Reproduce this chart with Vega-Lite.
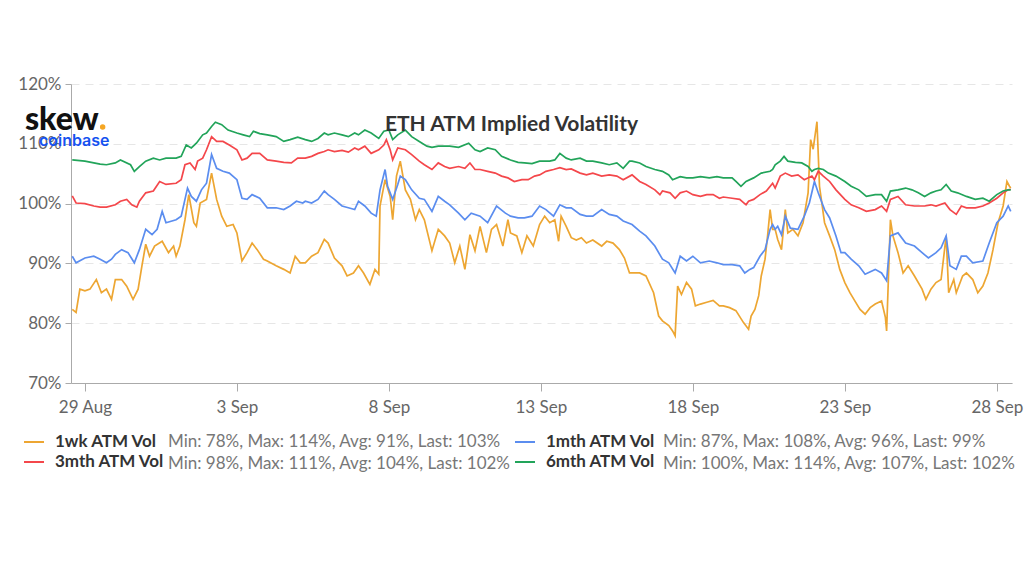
{
  "$schema": "https://vega.github.io/schema/vega-lite/v6.json",
  "width": 941,
  "height": 299,
  "autosize": {"type": "none"},
  "padding": {"left": 71, "top": 84, "right": 12, "bottom": 189},
  "background": "white",
  "config": {
    "font": "Lato",
    "view": {"stroke": null},
    "axis": {"labelFont": "Lato", "labelFontSize": 17, "labelColor": "#666666", "domainColor": "#aaaaaa", "tickColor": "#aaaaaa", "title": null}
  },
  "title": {
    "text": "ETH ATM Implied Volatility",
    "fontSize": 21,
    "fontWeight": "bold",
    "color": "#333333",
    "anchor": "middle",
    "baseline": "alphabetic",
    "offset": 0,
    "dx": -30,
    "dy": 77
  },
  "datasets": {
    "stats": [
      {"k": "Min: 78%, Max: 114%, Avg: 91%, Last: 103%"},
      {"k": "Min: 87%, Max: 108%, Avg: 96%, Last: 99%"},
      {"k": "Min: 98%, Max: 111%, Avg: 104%, Last: 102%"},
      {"k": "Min: 100%, Max: 114%, Avg: 107%, Last: 102%"}
    ],
    "vol": [
      {"t":"2020-08-28T14:00Z","s":"1wk","v":82.3},{"t":"2020-08-28T17:00Z","s":"1wk","v":81.8},{"t":"2020-08-28T20:00Z","s":"1wk","v":85.7},{"t":"2020-08-29T00:00Z","s":"1wk","v":85.4},{"t":"2020-08-29T04:00Z","s":"1wk","v":85.7},{"t":"2020-08-29T09:00Z","s":"1wk","v":87.3},{"t":"2020-08-29T13:00Z","s":"1wk","v":85.1},{"t":"2020-08-29T17:00Z","s":"1wk","v":85.7},{"t":"2020-08-29T21:00Z","s":"1wk","v":84.0},{"t":"2020-08-30T00:00Z","s":"1wk","v":87.3},{"t":"2020-08-30T05:00Z","s":"1wk","v":87.3},{"t":"2020-08-30T09:00Z","s":"1wk","v":86.2},{"t":"2020-08-30T14:00Z","s":"1wk","v":84.0},{"t":"2020-08-30T18:00Z","s":"1wk","v":85.7},{"t":"2020-08-30T21:00Z","s":"1wk","v":89.6},{"t":"2020-08-31T00:00Z","s":"1wk","v":93.2},{"t":"2020-08-31T03:00Z","s":"1wk","v":91.2},{"t":"2020-08-31T07:00Z","s":"1wk","v":92.9},{"t":"2020-08-31T13:00Z","s":"1wk","v":93.7},{"t":"2020-08-31T18:00Z","s":"1wk","v":91.8},{"t":"2020-08-31T22:00Z","s":"1wk","v":92.9},{"t":"2020-09-01T00:00Z","s":"1wk","v":91.2},{"t":"2020-09-01T03:00Z","s":"1wk","v":92.9},{"t":"2020-09-01T07:00Z","s":"1wk","v":97.3},{"t":"2020-09-01T10:00Z","s":"1wk","v":101.5},{"t":"2020-09-01T14:00Z","s":"1wk","v":96.8},{"t":"2020-09-01T16:00Z","s":"1wk","v":96.2},{"t":"2020-09-01T19:00Z","s":"1wk","v":100.1},{"t":"2020-09-02T00:00Z","s":"1wk","v":100.7},{"t":"2020-09-02T04:00Z","s":"1wk","v":105.1},{"t":"2020-09-02T08:00Z","s":"1wk","v":100.7},{"t":"2020-09-02T12:00Z","s":"1wk","v":97.9},{"t":"2020-09-02T16:00Z","s":"1wk","v":96.2},{"t":"2020-09-02T21:00Z","s":"1wk","v":96.5},{"t":"2020-09-03T00:00Z","s":"1wk","v":95.1},{"t":"2020-09-03T04:00Z","s":"1wk","v":90.4},{"t":"2020-09-03T08:00Z","s":"1wk","v":91.8},{"t":"2020-09-03T12:00Z","s":"1wk","v":93.4},{"t":"2020-09-03T16:00Z","s":"1wk","v":92.3},{"t":"2020-09-03T21:00Z","s":"1wk","v":90.7},{"t":"2020-09-04T00:00Z","s":"1wk","v":90.4},{"t":"2020-09-04T07:00Z","s":"1wk","v":89.6},{"t":"2020-09-04T13:00Z","s":"1wk","v":89.0},{"t":"2020-09-04T18:00Z","s":"1wk","v":88.4},{"t":"2020-09-04T22:00Z","s":"1wk","v":91.2},{"t":"2020-09-05T02:00Z","s":"1wk","v":90.1},{"t":"2020-09-05T06:00Z","s":"1wk","v":90.1},{"t":"2020-09-05T11:00Z","s":"1wk","v":91.2},{"t":"2020-09-05T16:00Z","s":"1wk","v":91.8},{"t":"2020-09-05T21:00Z","s":"1wk","v":94.0},{"t":"2020-09-06T00:00Z","s":"1wk","v":93.4},{"t":"2020-09-06T05:00Z","s":"1wk","v":90.9},{"t":"2020-09-06T11:00Z","s":"1wk","v":89.6},{"t":"2020-09-06T15:00Z","s":"1wk","v":87.9},{"t":"2020-09-06T20:00Z","s":"1wk","v":88.4},{"t":"2020-09-07T00:00Z","s":"1wk","v":89.6},{"t":"2020-09-07T04:00Z","s":"1wk","v":88.4},{"t":"2020-09-07T09:00Z","s":"1wk","v":86.5},{"t":"2020-09-07T13:00Z","s":"1wk","v":89.0},{"t":"2020-09-07T16:00Z","s":"1wk","v":88.2},{"t":"2020-09-07T17:00Z","s":"1wk","v":99.6},{"t":"2020-09-07T21:00Z","s":"1wk","v":104.0},{"t":"2020-09-08T01:00Z","s":"1wk","v":101.2},{"t":"2020-09-08T03:00Z","s":"1wk","v":97.3},{"t":"2020-09-08T06:00Z","s":"1wk","v":104.6},{"t":"2020-09-08T09:00Z","s":"1wk","v":107.1},{"t":"2020-09-08T13:00Z","s":"1wk","v":102.3},{"t":"2020-09-08T17:00Z","s":"1wk","v":100.7},{"t":"2020-09-08T21:00Z","s":"1wk","v":97.3},{"t":"2020-09-09T00:00Z","s":"1wk","v":99.0},{"t":"2020-09-09T04:00Z","s":"1wk","v":97.3},{"t":"2020-09-09T10:00Z","s":"1wk","v":92.1},{"t":"2020-09-09T15:00Z","s":"1wk","v":95.7},{"t":"2020-09-09T20:00Z","s":"1wk","v":94.6},{"t":"2020-09-10T00:00Z","s":"1wk","v":93.4},{"t":"2020-09-10T04:00Z","s":"1wk","v":90.1},{"t":"2020-09-10T08:00Z","s":"1wk","v":92.9},{"t":"2020-09-10T12:00Z","s":"1wk","v":89.0},{"t":"2020-09-10T16:00Z","s":"1wk","v":94.8},{"t":"2020-09-10T20:00Z","s":"1wk","v":92.1},{"t":"2020-09-11T00:00Z","s":"1wk","v":96.2},{"t":"2020-09-11T05:00Z","s":"1wk","v":91.8},{"t":"2020-09-11T09:00Z","s":"1wk","v":95.7},{"t":"2020-09-11T13:00Z","s":"1wk","v":96.5},{"t":"2020-09-11T18:00Z","s":"1wk","v":92.9},{"t":"2020-09-11T22:00Z","s":"1wk","v":97.3},{"t":"2020-09-12T00:00Z","s":"1wk","v":95.1},{"t":"2020-09-12T05:00Z","s":"1wk","v":94.6},{"t":"2020-09-12T09:00Z","s":"1wk","v":91.8},{"t":"2020-09-12T13:00Z","s":"1wk","v":94.6},{"t":"2020-09-12T18:00Z","s":"1wk","v":92.9},{"t":"2020-09-12T23:00Z","s":"1wk","v":96.5},{"t":"2020-09-13T03:00Z","s":"1wk","v":97.9},{"t":"2020-09-13T07:00Z","s":"1wk","v":96.8},{"t":"2020-09-13T11:00Z","s":"1wk","v":97.3},{"t":"2020-09-13T14:00Z","s":"1wk","v":93.7},{"t":"2020-09-13T16:00Z","s":"1wk","v":97.9},{"t":"2020-09-13T20:00Z","s":"1wk","v":96.2},{"t":"2020-09-14T00:00Z","s":"1wk","v":94.3},{"t":"2020-09-14T04:00Z","s":"1wk","v":93.9},{"t":"2020-09-14T08:00Z","s":"1wk","v":94.3},{"t":"2020-09-14T12:00Z","s":"1wk","v":93.4},{"t":"2020-09-14T17:00Z","s":"1wk","v":93.9},{"t":"2020-09-15T00:00Z","s":"1wk","v":92.9},{"t":"2020-09-15T04:00Z","s":"1wk","v":93.7},{"t":"2020-09-15T09:00Z","s":"1wk","v":93.4},{"t":"2020-09-15T14:00Z","s":"1wk","v":92.3},{"t":"2020-09-15T18:00Z","s":"1wk","v":90.9},{"t":"2020-09-15T22:00Z","s":"1wk","v":88.4},{"t":"2020-09-16T00:00Z","s":"1wk","v":88.4},{"t":"2020-09-16T06:00Z","s":"1wk","v":88.4},{"t":"2020-09-16T11:00Z","s":"1wk","v":87.9},{"t":"2020-09-16T17:00Z","s":"1wk","v":85.1},{"t":"2020-09-16T21:00Z","s":"1wk","v":81.2},{"t":"2020-09-17T00:00Z","s":"1wk","v":80.4},{"t":"2020-09-17T05:00Z","s":"1wk","v":79.6},{"t":"2020-09-17T08:00Z","s":"1wk","v":78.7},{"t":"2020-09-17T10:00Z","s":"1wk","v":77.9},{"t":"2020-09-17T12:00Z","s":"1wk","v":86.2},{"t":"2020-09-17T15:00Z","s":"1wk","v":84.8},{"t":"2020-09-17T19:00Z","s":"1wk","v":86.8},{"t":"2020-09-17T23:00Z","s":"1wk","v":85.7},{"t":"2020-09-18T02:00Z","s":"1wk","v":82.9},{"t":"2020-09-18T06:00Z","s":"1wk","v":83.2},{"t":"2020-09-18T11:00Z","s":"1wk","v":83.5},{"t":"2020-09-18T16:00Z","s":"1wk","v":83.8},{"t":"2020-09-18T21:00Z","s":"1wk","v":82.9},{"t":"2020-09-19T00:00Z","s":"1wk","v":82.9},{"t":"2020-09-19T05:00Z","s":"1wk","v":82.6},{"t":"2020-09-19T10:00Z","s":"1wk","v":82.1},{"t":"2020-09-19T16:00Z","s":"1wk","v":80.1},{"t":"2020-09-19T20:00Z","s":"1wk","v":79.0},{"t":"2020-09-19T22:00Z","s":"1wk","v":81.2},{"t":"2020-09-20T01:00Z","s":"1wk","v":82.3},{"t":"2020-09-20T04:00Z","s":"1wk","v":84.6},{"t":"2020-09-20T06:00Z","s":"1wk","v":87.9},{"t":"2020-09-20T09:00Z","s":"1wk","v":90.7},{"t":"2020-09-20T11:00Z","s":"1wk","v":94.6},{"t":"2020-09-20T13:00Z","s":"1wk","v":99.0},{"t":"2020-09-20T15:00Z","s":"1wk","v":95.7},{"t":"2020-09-20T17:00Z","s":"1wk","v":95.7},{"t":"2020-09-20T19:00Z","s":"1wk","v":94.0},{"t":"2020-09-20T22:00Z","s":"1wk","v":92.3},{"t":"2020-09-21T01:00Z","s":"1wk","v":99.0},{"t":"2020-09-21T03:00Z","s":"1wk","v":95.1},{"t":"2020-09-21T07:00Z","s":"1wk","v":95.7},{"t":"2020-09-21T11:00Z","s":"1wk","v":94.6},{"t":"2020-09-21T15:00Z","s":"1wk","v":96.8},{"t":"2020-09-21T19:00Z","s":"1wk","v":101.8},{"t":"2020-09-21T21:00Z","s":"1wk","v":110.7},{"t":"2020-09-21T23:00Z","s":"1wk","v":109.1},{"t":"2020-09-22T02:00Z","s":"1wk","v":113.7},{"t":"2020-09-22T04:00Z","s":"1wk","v":102.9},{"t":"2020-09-22T08:00Z","s":"1wk","v":96.8},{"t":"2020-09-22T12:00Z","s":"1wk","v":94.6},{"t":"2020-09-22T16:00Z","s":"1wk","v":92.3},{"t":"2020-09-22T20:00Z","s":"1wk","v":89.0},{"t":"2020-09-23T00:00Z","s":"1wk","v":86.8},{"t":"2020-09-23T04:00Z","s":"1wk","v":85.1},{"t":"2020-09-23T08:00Z","s":"1wk","v":83.7},{"t":"2020-09-23T12:00Z","s":"1wk","v":82.3},{"t":"2020-09-23T16:00Z","s":"1wk","v":81.5},{"t":"2020-09-23T20:00Z","s":"1wk","v":82.6},{"t":"2020-09-24T00:00Z","s":"1wk","v":83.2},{"t":"2020-09-24T05:00Z","s":"1wk","v":83.7},{"t":"2020-09-24T08:00Z","s":"1wk","v":81.0},{"t":"2020-09-24T09:00Z","s":"1wk","v":78.7},{"t":"2020-09-24T12:00Z","s":"1wk","v":97.3},{"t":"2020-09-24T14:00Z","s":"1wk","v":94.6},{"t":"2020-09-24T18:00Z","s":"1wk","v":91.8},{"t":"2020-09-24T22:00Z","s":"1wk","v":88.4},{"t":"2020-09-25T02:00Z","s":"1wk","v":89.6},{"t":"2020-09-25T07:00Z","s":"1wk","v":87.9},{"t":"2020-09-25T13:00Z","s":"1wk","v":85.7},{"t":"2020-09-25T16:00Z","s":"1wk","v":84.0},{"t":"2020-09-25T20:00Z","s":"1wk","v":85.7},{"t":"2020-09-26T00:00Z","s":"1wk","v":86.8},{"t":"2020-09-26T04:00Z","s":"1wk","v":87.3},{"t":"2020-09-26T08:00Z","s":"1wk","v":94.6},{"t":"2020-09-26T10:00Z","s":"1wk","v":85.1},{"t":"2020-09-26T14:00Z","s":"1wk","v":87.3},{"t":"2020-09-26T16:00Z","s":"1wk","v":85.1},{"t":"2020-09-26T21:00Z","s":"1wk","v":87.9},{"t":"2020-09-27T00:00Z","s":"1wk","v":88.4},{"t":"2020-09-27T05:00Z","s":"1wk","v":87.3},{"t":"2020-09-27T09:00Z","s":"1wk","v":85.1},{"t":"2020-09-27T13:00Z","s":"1wk","v":86.2},{"t":"2020-09-27T17:00Z","s":"1wk","v":88.4},{"t":"2020-09-27T21:00Z","s":"1wk","v":92.3},{"t":"2020-09-28T01:00Z","s":"1wk","v":96.8},{"t":"2020-09-28T05:00Z","s":"1wk","v":99.6},{"t":"2020-09-28T08:00Z","s":"1wk","v":103.7},{"t":"2020-09-28T10:00Z","s":"1wk","v":102.9},{"t":"2020-09-28T11:00Z","s":"1wk","v":102.6},

      {"t":"2020-08-28T14:00Z","s":"1mth","v":91.2},{"t":"2020-08-28T17:00Z","s":"1mth","v":90.1},{"t":"2020-08-29T00:00Z","s":"1mth","v":90.9},{"t":"2020-08-29T07:00Z","s":"1mth","v":91.2},{"t":"2020-08-29T12:00Z","s":"1mth","v":90.7},{"t":"2020-08-29T17:00Z","s":"1mth","v":90.1},{"t":"2020-08-29T21:00Z","s":"1mth","v":90.7},{"t":"2020-08-30T00:00Z","s":"1mth","v":91.5},{"t":"2020-08-30T05:00Z","s":"1mth","v":92.3},{"t":"2020-08-30T10:00Z","s":"1mth","v":91.8},{"t":"2020-08-30T15:00Z","s":"1mth","v":90.1},{"t":"2020-08-30T19:00Z","s":"1mth","v":92.3},{"t":"2020-08-31T00:00Z","s":"1mth","v":95.7},{"t":"2020-08-31T05:00Z","s":"1mth","v":94.8},{"t":"2020-08-31T09:00Z","s":"1mth","v":95.7},{"t":"2020-08-31T13:00Z","s":"1mth","v":98.7},{"t":"2020-08-31T16:00Z","s":"1mth","v":96.8},{"t":"2020-09-01T00:00Z","s":"1mth","v":97.3},{"t":"2020-09-01T04:00Z","s":"1mth","v":97.9},{"t":"2020-09-01T09:00Z","s":"1mth","v":102.6},{"t":"2020-09-01T12:00Z","s":"1mth","v":101.2},{"t":"2020-09-01T16:00Z","s":"1mth","v":100.4},{"t":"2020-09-01T20:00Z","s":"1mth","v":102.3},{"t":"2020-09-02T00:00Z","s":"1mth","v":103.4},{"t":"2020-09-02T04:00Z","s":"1mth","v":108.2},{"t":"2020-09-02T08:00Z","s":"1mth","v":105.9},{"t":"2020-09-02T13:00Z","s":"1mth","v":105.4},{"t":"2020-09-02T18:00Z","s":"1mth","v":105.1},{"t":"2020-09-03T00:00Z","s":"1mth","v":104.0},{"t":"2020-09-03T04:00Z","s":"1mth","v":100.9},{"t":"2020-09-03T08:00Z","s":"1mth","v":100.7},{"t":"2020-09-03T12:00Z","s":"1mth","v":101.5},{"t":"2020-09-03T18:00Z","s":"1mth","v":100.9},{"t":"2020-09-04T00:00Z","s":"1mth","v":99.3},{"t":"2020-09-04T07:00Z","s":"1mth","v":99.3},{"t":"2020-09-04T13:00Z","s":"1mth","v":99.0},{"t":"2020-09-04T18:00Z","s":"1mth","v":99.6},{"t":"2020-09-04T23:00Z","s":"1mth","v":100.4},{"t":"2020-09-05T04:00Z","s":"1mth","v":100.1},{"t":"2020-09-05T06:00Z","s":"1mth","v":100.4},{"t":"2020-09-05T11:00Z","s":"1mth","v":100.1},{"t":"2020-09-05T16:00Z","s":"1mth","v":100.7},{"t":"2020-09-05T21:00Z","s":"1mth","v":102.1},{"t":"2020-09-06T00:00Z","s":"1mth","v":101.5},{"t":"2020-09-06T05:00Z","s":"1mth","v":100.7},{"t":"2020-09-06T11:00Z","s":"1mth","v":99.6},{"t":"2020-09-06T16:00Z","s":"1mth","v":99.3},{"t":"2020-09-06T21:00Z","s":"1mth","v":99.0},{"t":"2020-09-07T00:00Z","s":"1mth","v":100.4},{"t":"2020-09-07T05:00Z","s":"1mth","v":99.6},{"t":"2020-09-07T10:00Z","s":"1mth","v":98.4},{"t":"2020-09-07T14:00Z","s":"1mth","v":97.9},{"t":"2020-09-07T17:00Z","s":"1mth","v":102.3},{"t":"2020-09-07T21:00Z","s":"1mth","v":105.7},{"t":"2020-09-07T23:00Z","s":"1mth","v":102.9},{"t":"2020-09-08T03:00Z","s":"1mth","v":100.7},{"t":"2020-09-08T07:00Z","s":"1mth","v":103.2},{"t":"2020-09-08T09:00Z","s":"1mth","v":104.6},{"t":"2020-09-08T13:00Z","s":"1mth","v":104.0},{"t":"2020-09-08T18:00Z","s":"1mth","v":102.3},{"t":"2020-09-09T00:00Z","s":"1mth","v":100.9},{"t":"2020-09-09T04:00Z","s":"1mth","v":100.7},{"t":"2020-09-09T10:00Z","s":"1mth","v":98.7},{"t":"2020-09-09T15:00Z","s":"1mth","v":101.2},{"t":"2020-09-09T20:00Z","s":"1mth","v":100.4},{"t":"2020-09-10T00:00Z","s":"1mth","v":99.8},{"t":"2020-09-10T07:00Z","s":"1mth","v":98.4},{"t":"2020-09-10T12:00Z","s":"1mth","v":97.3},{"t":"2020-09-10T17:00Z","s":"1mth","v":98.4},{"t":"2020-09-11T00:00Z","s":"1mth","v":97.9},{"t":"2020-09-11T06:00Z","s":"1mth","v":96.8},{"t":"2020-09-11T13:00Z","s":"1mth","v":99.6},{"t":"2020-09-11T20:00Z","s":"1mth","v":98.4},{"t":"2020-09-12T00:00Z","s":"1mth","v":97.9},{"t":"2020-09-12T06:00Z","s":"1mth","v":97.6},{"t":"2020-09-12T11:00Z","s":"1mth","v":97.6},{"t":"2020-09-12T17:00Z","s":"1mth","v":97.9},{"t":"2020-09-12T23:00Z","s":"1mth","v":99.6},{"t":"2020-09-13T04:00Z","s":"1mth","v":99.0},{"t":"2020-09-13T10:00Z","s":"1mth","v":97.9},{"t":"2020-09-13T15:00Z","s":"1mth","v":99.8},{"t":"2020-09-13T20:00Z","s":"1mth","v":99.3},{"t":"2020-09-14T00:00Z","s":"1mth","v":99.3},{"t":"2020-09-14T07:00Z","s":"1mth","v":98.2},{"t":"2020-09-14T12:00Z","s":"1mth","v":97.9},{"t":"2020-09-14T17:00Z","s":"1mth","v":97.9},{"t":"2020-09-15T00:00Z","s":"1mth","v":99.0},{"t":"2020-09-15T06:00Z","s":"1mth","v":98.2},{"t":"2020-09-15T12:00Z","s":"1mth","v":97.9},{"t":"2020-09-15T17:00Z","s":"1mth","v":97.1},{"t":"2020-09-16T00:00Z","s":"1mth","v":96.5},{"t":"2020-09-16T06:00Z","s":"1mth","v":95.4},{"t":"2020-09-16T11:00Z","s":"1mth","v":94.6},{"t":"2020-09-16T18:00Z","s":"1mth","v":92.9},{"t":"2020-09-17T00:00Z","s":"1mth","v":90.7},{"t":"2020-09-17T05:00Z","s":"1mth","v":90.1},{"t":"2020-09-17T10:00Z","s":"1mth","v":88.4},{"t":"2020-09-17T14:00Z","s":"1mth","v":91.2},{"t":"2020-09-17T19:00Z","s":"1mth","v":90.4},{"t":"2020-09-18T00:00Z","s":"1mth","v":91.2},{"t":"2020-09-18T06:00Z","s":"1mth","v":90.1},{"t":"2020-09-18T13:00Z","s":"1mth","v":90.4},{"t":"2020-09-18T19:00Z","s":"1mth","v":90.1},{"t":"2020-09-19T00:00Z","s":"1mth","v":89.8},{"t":"2020-09-19T07:00Z","s":"1mth","v":89.8},{"t":"2020-09-19T13:00Z","s":"1mth","v":89.6},{"t":"2020-09-19T17:00Z","s":"1mth","v":88.4},{"t":"2020-09-19T21:00Z","s":"1mth","v":89.0},{"t":"2020-09-20T00:00Z","s":"1mth","v":89.3},{"t":"2020-09-20T05:00Z","s":"1mth","v":91.2},{"t":"2020-09-20T09:00Z","s":"1mth","v":92.3},{"t":"2020-09-20T13:00Z","s":"1mth","v":95.7},{"t":"2020-09-20T15:00Z","s":"1mth","v":96.5},{"t":"2020-09-20T17:00Z","s":"1mth","v":95.7},{"t":"2020-09-20T19:00Z","s":"1mth","v":96.2},{"t":"2020-09-20T22:00Z","s":"1mth","v":94.8},{"t":"2020-09-21T01:00Z","s":"1mth","v":97.9},{"t":"2020-09-21T05:00Z","s":"1mth","v":95.9},{"t":"2020-09-21T11:00Z","s":"1mth","v":95.7},{"t":"2020-09-21T16:00Z","s":"1mth","v":97.9},{"t":"2020-09-21T20:00Z","s":"1mth","v":100.1},{"t":"2020-09-22T00:00Z","s":"1mth","v":103.7},{"t":"2020-09-22T03:00Z","s":"1mth","v":101.8},{"t":"2020-09-22T08:00Z","s":"1mth","v":99.0},{"t":"2020-09-22T12:00Z","s":"1mth","v":97.6},{"t":"2020-09-22T17:00Z","s":"1mth","v":94.6},{"t":"2020-09-22T21:00Z","s":"1mth","v":91.8},{"t":"2020-09-23T00:00Z","s":"1mth","v":91.8},{"t":"2020-09-23T05:00Z","s":"1mth","v":90.7},{"t":"2020-09-23T11:00Z","s":"1mth","v":89.6},{"t":"2020-09-23T16:00Z","s":"1mth","v":88.2},{"t":"2020-09-24T00:00Z","s":"1mth","v":89.0},{"t":"2020-09-24T05:00Z","s":"1mth","v":88.4},{"t":"2020-09-24T09:00Z","s":"1mth","v":87.1},{"t":"2020-09-24T12:00Z","s":"1mth","v":94.6},{"t":"2020-09-24T18:00Z","s":"1mth","v":95.1},{"t":"2020-09-25T00:00Z","s":"1mth","v":93.4},{"t":"2020-09-25T07:00Z","s":"1mth","v":92.9},{"t":"2020-09-25T13:00Z","s":"1mth","v":91.8},{"t":"2020-09-25T18:00Z","s":"1mth","v":90.9},{"t":"2020-09-26T00:00Z","s":"1mth","v":91.8},{"t":"2020-09-26T04:00Z","s":"1mth","v":92.6},{"t":"2020-09-26T08:00Z","s":"1mth","v":94.6},{"t":"2020-09-26T11:00Z","s":"1mth","v":89.6},{"t":"2020-09-26T16:00Z","s":"1mth","v":89.0},{"t":"2020-09-26T20:00Z","s":"1mth","v":91.2},{"t":"2020-09-27T00:00Z","s":"1mth","v":91.2},{"t":"2020-09-27T05:00Z","s":"1mth","v":90.1},{"t":"2020-09-27T13:00Z","s":"1mth","v":90.4},{"t":"2020-09-27T18:00Z","s":"1mth","v":93.4},{"t":"2020-09-28T00:00Z","s":"1mth","v":96.8},{"t":"2020-09-28T05:00Z","s":"1mth","v":97.9},{"t":"2020-09-28T09:00Z","s":"1mth","v":99.6},{"t":"2020-09-28T11:00Z","s":"1mth","v":98.7},

      {"t":"2020-08-28T14:00Z","s":"3mth","v":101.3},{"t":"2020-08-28T17:00Z","s":"3mth","v":100.1},{"t":"2020-08-29T00:00Z","s":"3mth","v":100.0},{"t":"2020-08-29T07:00Z","s":"3mth","v":99.6},{"t":"2020-08-29T12:00Z","s":"3mth","v":99.4},{"t":"2020-08-29T17:00Z","s":"3mth","v":99.4},{"t":"2020-08-30T00:00Z","s":"3mth","v":99.8},{"t":"2020-08-30T04:00Z","s":"3mth","v":100.4},{"t":"2020-08-30T09:00Z","s":"3mth","v":100.7},{"t":"2020-08-30T13:00Z","s":"3mth","v":99.8},{"t":"2020-08-30T17:00Z","s":"3mth","v":99.4},{"t":"2020-08-30T19:00Z","s":"3mth","v":100.4},{"t":"2020-08-31T00:00Z","s":"3mth","v":101.8},{"t":"2020-08-31T06:00Z","s":"3mth","v":102.1},{"t":"2020-08-31T11:00Z","s":"3mth","v":103.7},{"t":"2020-08-31T16:00Z","s":"3mth","v":103.2},{"t":"2020-09-01T00:00Z","s":"3mth","v":103.4},{"t":"2020-09-01T04:00Z","s":"3mth","v":104.0},{"t":"2020-09-01T07:00Z","s":"3mth","v":106.5},{"t":"2020-09-01T11:00Z","s":"3mth","v":106.8},{"t":"2020-09-01T15:00Z","s":"3mth","v":105.7},{"t":"2020-09-01T17:00Z","s":"3mth","v":107.1},{"t":"2020-09-01T21:00Z","s":"3mth","v":107.6},{"t":"2020-09-02T00:00Z","s":"3mth","v":109.0},{"t":"2020-09-02T04:00Z","s":"3mth","v":111.2},{"t":"2020-09-02T08:00Z","s":"3mth","v":110.4},{"t":"2020-09-02T13:00Z","s":"3mth","v":110.4},{"t":"2020-09-02T18:00Z","s":"3mth","v":109.8},{"t":"2020-09-03T00:00Z","s":"3mth","v":109.0},{"t":"2020-09-03T04:00Z","s":"3mth","v":107.3},{"t":"2020-09-03T08:00Z","s":"3mth","v":107.6},{"t":"2020-09-03T12:00Z","s":"3mth","v":108.4},{"t":"2020-09-03T18:00Z","s":"3mth","v":108.4},{"t":"2020-09-04T00:00Z","s":"3mth","v":107.3},{"t":"2020-09-04T07:00Z","s":"3mth","v":107.1},{"t":"2020-09-04T13:00Z","s":"3mth","v":106.9},{"t":"2020-09-04T19:00Z","s":"3mth","v":106.8},{"t":"2020-09-05T00:00Z","s":"3mth","v":107.6},{"t":"2020-09-05T06:00Z","s":"3mth","v":107.6},{"t":"2020-09-05T11:00Z","s":"3mth","v":107.9},{"t":"2020-09-05T16:00Z","s":"3mth","v":108.4},{"t":"2020-09-05T21:00Z","s":"3mth","v":108.7},{"t":"2020-09-06T00:00Z","s":"3mth","v":109.0},{"t":"2020-09-06T05:00Z","s":"3mth","v":108.7},{"t":"2020-09-06T11:00Z","s":"3mth","v":108.9},{"t":"2020-09-06T16:00Z","s":"3mth","v":108.6},{"t":"2020-09-06T21:00Z","s":"3mth","v":109.3},{"t":"2020-09-07T00:00Z","s":"3mth","v":109.0},{"t":"2020-09-07T05:00Z","s":"3mth","v":109.6},{"t":"2020-09-07T10:00Z","s":"3mth","v":108.4},{"t":"2020-09-07T16:00Z","s":"3mth","v":109.0},{"t":"2020-09-07T20:00Z","s":"3mth","v":109.8},{"t":"2020-09-07T22:00Z","s":"3mth","v":110.7},{"t":"2020-09-08T01:00Z","s":"3mth","v":109.0},{"t":"2020-09-08T03:00Z","s":"3mth","v":107.3},{"t":"2020-09-08T07:00Z","s":"3mth","v":109.3},{"t":"2020-09-08T13:00Z","s":"3mth","v":109.0},{"t":"2020-09-08T18:00Z","s":"3mth","v":108.2},{"t":"2020-09-09T00:00Z","s":"3mth","v":107.1},{"t":"2020-09-09T04:00Z","s":"3mth","v":106.5},{"t":"2020-09-09T10:00Z","s":"3mth","v":105.7},{"t":"2020-09-09T15:00Z","s":"3mth","v":106.8},{"t":"2020-09-09T20:00Z","s":"3mth","v":106.2},{"t":"2020-09-10T00:00Z","s":"3mth","v":105.9},{"t":"2020-09-10T07:00Z","s":"3mth","v":106.2},{"t":"2020-09-10T12:00Z","s":"3mth","v":105.9},{"t":"2020-09-10T16:00Z","s":"3mth","v":106.8},{"t":"2020-09-10T20:00Z","s":"3mth","v":105.7},{"t":"2020-09-11T00:00Z","s":"3mth","v":105.7},{"t":"2020-09-11T06:00Z","s":"3mth","v":105.4},{"t":"2020-09-11T12:00Z","s":"3mth","v":105.1},{"t":"2020-09-11T17:00Z","s":"3mth","v":104.6},{"t":"2020-09-11T22:00Z","s":"3mth","v":104.3},{"t":"2020-09-12T03:00Z","s":"3mth","v":103.7},{"t":"2020-09-12T09:00Z","s":"3mth","v":104.0},{"t":"2020-09-12T14:00Z","s":"3mth","v":104.0},{"t":"2020-09-12T19:00Z","s":"3mth","v":104.6},{"t":"2020-09-12T23:00Z","s":"3mth","v":104.8},{"t":"2020-09-13T04:00Z","s":"3mth","v":105.4},{"t":"2020-09-13T10:00Z","s":"3mth","v":105.7},{"t":"2020-09-13T15:00Z","s":"3mth","v":106.0},{"t":"2020-09-13T20:00Z","s":"3mth","v":105.7},{"t":"2020-09-14T00:00Z","s":"3mth","v":105.8},{"t":"2020-09-14T07:00Z","s":"3mth","v":105.1},{"t":"2020-09-14T12:00Z","s":"3mth","v":104.8},{"t":"2020-09-14T17:00Z","s":"3mth","v":105.1},{"t":"2020-09-15T00:00Z","s":"3mth","v":104.6},{"t":"2020-09-15T06:00Z","s":"3mth","v":104.8},{"t":"2020-09-15T12:00Z","s":"3mth","v":104.6},{"t":"2020-09-15T17:00Z","s":"3mth","v":104.0},{"t":"2020-09-16T00:00Z","s":"3mth","v":104.8},{"t":"2020-09-16T06:00Z","s":"3mth","v":103.7},{"t":"2020-09-16T11:00Z","s":"3mth","v":103.2},{"t":"2020-09-16T18:00Z","s":"3mth","v":102.3},{"t":"2020-09-16T22:00Z","s":"3mth","v":101.5},{"t":"2020-09-17T00:00Z","s":"3mth","v":102.1},{"t":"2020-09-17T06:00Z","s":"3mth","v":101.8},{"t":"2020-09-17T10:00Z","s":"3mth","v":100.9},{"t":"2020-09-17T14:00Z","s":"3mth","v":101.8},{"t":"2020-09-17T19:00Z","s":"3mth","v":102.1},{"t":"2020-09-18T00:00Z","s":"3mth","v":101.5},{"t":"2020-09-18T06:00Z","s":"3mth","v":101.2},{"t":"2020-09-18T11:00Z","s":"3mth","v":101.5},{"t":"2020-09-18T16:00Z","s":"3mth","v":101.5},{"t":"2020-09-18T21:00Z","s":"3mth","v":100.9},{"t":"2020-09-19T00:00Z","s":"3mth","v":101.1},{"t":"2020-09-19T07:00Z","s":"3mth","v":100.9},{"t":"2020-09-19T13:00Z","s":"3mth","v":100.7},{"t":"2020-09-19T18:00Z","s":"3mth","v":99.8},{"t":"2020-09-19T20:00Z","s":"3mth","v":100.4},{"t":"2020-09-20T00:00Z","s":"3mth","v":100.7},{"t":"2020-09-20T05:00Z","s":"3mth","v":101.5},{"t":"2020-09-20T10:00Z","s":"3mth","v":102.1},{"t":"2020-09-20T15:00Z","s":"3mth","v":103.4},{"t":"2020-09-20T17:00Z","s":"3mth","v":102.6},{"t":"2020-09-20T21:00Z","s":"3mth","v":104.6},{"t":"2020-09-21T01:00Z","s":"3mth","v":105.1},{"t":"2020-09-21T06:00Z","s":"3mth","v":104.6},{"t":"2020-09-21T11:00Z","s":"3mth","v":104.8},{"t":"2020-09-21T16:00Z","s":"3mth","v":104.0},{"t":"2020-09-21T22:00Z","s":"3mth","v":104.6},{"t":"2020-09-22T00:00Z","s":"3mth","v":104.0},{"t":"2020-09-22T03:00Z","s":"3mth","v":105.4},{"t":"2020-09-22T07:00Z","s":"3mth","v":104.6},{"t":"2020-09-22T12:00Z","s":"3mth","v":103.7},{"t":"2020-09-22T17:00Z","s":"3mth","v":102.3},{"t":"2020-09-23T00:00Z","s":"3mth","v":100.7},{"t":"2020-09-23T05:00Z","s":"3mth","v":99.8},{"t":"2020-09-23T11:00Z","s":"3mth","v":99.3},{"t":"2020-09-23T17:00Z","s":"3mth","v":98.7},{"t":"2020-09-24T00:00Z","s":"3mth","v":99.0},{"t":"2020-09-24T05:00Z","s":"3mth","v":99.6},{"t":"2020-09-24T09:00Z","s":"3mth","v":98.7},{"t":"2020-09-24T12:00Z","s":"3mth","v":100.7},{"t":"2020-09-24T18:00Z","s":"3mth","v":101.2},{"t":"2020-09-25T00:00Z","s":"3mth","v":99.8},{"t":"2020-09-25T07:00Z","s":"3mth","v":99.6},{"t":"2020-09-25T15:00Z","s":"3mth","v":99.6},{"t":"2020-09-25T20:00Z","s":"3mth","v":99.8},{"t":"2020-09-26T00:00Z","s":"3mth","v":99.6},{"t":"2020-09-26T07:00Z","s":"3mth","v":100.1},{"t":"2020-09-26T11:00Z","s":"3mth","v":99.0},{"t":"2020-09-26T16:00Z","s":"3mth","v":98.2},{"t":"2020-09-26T20:00Z","s":"3mth","v":99.6},{"t":"2020-09-27T00:00Z","s":"3mth","v":99.3},{"t":"2020-09-27T07:00Z","s":"3mth","v":99.3},{"t":"2020-09-27T13:00Z","s":"3mth","v":99.6},{"t":"2020-09-27T18:00Z","s":"3mth","v":100.1},{"t":"2020-09-28T00:00Z","s":"3mth","v":100.9},{"t":"2020-09-28T05:00Z","s":"3mth","v":101.8},{"t":"2020-09-28T09:00Z","s":"3mth","v":102.3},{"t":"2020-09-28T11:00Z","s":"3mth","v":102.4},

      {"t":"2020-08-28T14:00Z","s":"6mth","v":107.3},{"t":"2020-08-29T00:00Z","s":"6mth","v":107.1},{"t":"2020-08-29T07:00Z","s":"6mth","v":106.8},{"t":"2020-08-29T12:00Z","s":"6mth","v":106.6},{"t":"2020-08-29T17:00Z","s":"6mth","v":106.5},{"t":"2020-08-30T00:00Z","s":"6mth","v":106.8},{"t":"2020-08-30T04:00Z","s":"6mth","v":107.3},{"t":"2020-08-30T12:00Z","s":"6mth","v":106.5},{"t":"2020-08-30T15:00Z","s":"6mth","v":105.4},{"t":"2020-08-30T19:00Z","s":"6mth","v":106.2},{"t":"2020-08-31T00:00Z","s":"6mth","v":107.1},{"t":"2020-08-31T06:00Z","s":"6mth","v":107.6},{"t":"2020-08-31T11:00Z","s":"6mth","v":107.3},{"t":"2020-08-31T16:00Z","s":"6mth","v":107.6},{"t":"2020-09-01T00:00Z","s":"6mth","v":107.6},{"t":"2020-09-01T04:00Z","s":"6mth","v":107.9},{"t":"2020-09-01T08:00Z","s":"6mth","v":109.8},{"t":"2020-09-01T12:00Z","s":"6mth","v":109.3},{"t":"2020-09-01T16:00Z","s":"6mth","v":110.1},{"t":"2020-09-01T21:00Z","s":"6mth","v":111.5},{"t":"2020-09-02T00:00Z","s":"6mth","v":111.8},{"t":"2020-09-02T04:00Z","s":"6mth","v":112.9},{"t":"2020-09-02T07:00Z","s":"6mth","v":113.6},{"t":"2020-09-02T12:00Z","s":"6mth","v":113.2},{"t":"2020-09-02T17:00Z","s":"6mth","v":112.3},{"t":"2020-09-03T00:00Z","s":"6mth","v":111.8},{"t":"2020-09-03T05:00Z","s":"6mth","v":111.5},{"t":"2020-09-03T10:00Z","s":"6mth","v":111.2},{"t":"2020-09-03T13:00Z","s":"6mth","v":112.1},{"t":"2020-09-03T18:00Z","s":"6mth","v":111.7},{"t":"2020-09-04T00:00Z","s":"6mth","v":111.5},{"t":"2020-09-04T07:00Z","s":"6mth","v":111.2},{"t":"2020-09-04T13:00Z","s":"6mth","v":110.4},{"t":"2020-09-04T18:00Z","s":"6mth","v":110.7},{"t":"2020-09-05T00:00Z","s":"6mth","v":111.1},{"t":"2020-09-05T06:00Z","s":"6mth","v":110.7},{"t":"2020-09-05T11:00Z","s":"6mth","v":110.4},{"t":"2020-09-05T16:00Z","s":"6mth","v":110.9},{"t":"2020-09-05T21:00Z","s":"6mth","v":111.8},{"t":"2020-09-06T00:00Z","s":"6mth","v":111.5},{"t":"2020-09-06T05:00Z","s":"6mth","v":111.8},{"t":"2020-09-06T11:00Z","s":"6mth","v":111.5},{"t":"2020-09-06T16:00Z","s":"6mth","v":111.2},{"t":"2020-09-06T21:00Z","s":"6mth","v":111.8},{"t":"2020-09-07T00:00Z","s":"6mth","v":111.5},{"t":"2020-09-07T05:00Z","s":"6mth","v":112.3},{"t":"2020-09-07T10:00Z","s":"6mth","v":111.8},{"t":"2020-09-07T16:00Z","s":"6mth","v":110.9},{"t":"2020-09-07T20:00Z","s":"6mth","v":112.1},{"t":"2020-09-08T00:00Z","s":"6mth","v":112.3},{"t":"2020-09-08T03:00Z","s":"6mth","v":110.7},{"t":"2020-09-08T07:00Z","s":"6mth","v":111.5},{"t":"2020-09-08T13:00Z","s":"6mth","v":112.3},{"t":"2020-09-08T18:00Z","s":"6mth","v":111.2},{"t":"2020-09-09T00:00Z","s":"6mth","v":110.4},{"t":"2020-09-09T06:00Z","s":"6mth","v":109.6},{"t":"2020-09-09T10:00Z","s":"6mth","v":109.4},{"t":"2020-09-09T15:00Z","s":"6mth","v":109.6},{"t":"2020-09-09T20:00Z","s":"6mth","v":109.6},{"t":"2020-09-10T00:00Z","s":"6mth","v":109.6},{"t":"2020-09-10T07:00Z","s":"6mth","v":109.4},{"t":"2020-09-10T15:00Z","s":"6mth","v":110.1},{"t":"2020-09-10T20:00Z","s":"6mth","v":109.0},{"t":"2020-09-11T00:00Z","s":"6mth","v":108.7},{"t":"2020-09-11T06:00Z","s":"6mth","v":109.3},{"t":"2020-09-11T12:00Z","s":"6mth","v":109.0},{"t":"2020-09-11T17:00Z","s":"6mth","v":107.9},{"t":"2020-09-12T00:00Z","s":"6mth","v":107.3},{"t":"2020-09-12T06:00Z","s":"6mth","v":106.9},{"t":"2020-09-12T11:00Z","s":"6mth","v":106.8},{"t":"2020-09-12T17:00Z","s":"6mth","v":106.7},{"t":"2020-09-12T23:00Z","s":"6mth","v":107.1},{"t":"2020-09-13T07:00Z","s":"6mth","v":107.1},{"t":"2020-09-13T11:00Z","s":"6mth","v":107.3},{"t":"2020-09-13T15:00Z","s":"6mth","v":108.4},{"t":"2020-09-13T20:00Z","s":"6mth","v":107.6},{"t":"2020-09-14T00:00Z","s":"6mth","v":107.3},{"t":"2020-09-14T07:00Z","s":"6mth","v":107.6},{"t":"2020-09-14T12:00Z","s":"6mth","v":107.1},{"t":"2020-09-14T17:00Z","s":"6mth","v":107.1},{"t":"2020-09-15T00:00Z","s":"6mth","v":106.8},{"t":"2020-09-15T06:00Z","s":"6mth","v":106.5},{"t":"2020-09-15T12:00Z","s":"6mth","v":106.8},{"t":"2020-09-15T17:00Z","s":"6mth","v":105.9},{"t":"2020-09-15T22:00Z","s":"6mth","v":107.1},{"t":"2020-09-16T00:00Z","s":"6mth","v":107.1},{"t":"2020-09-16T06:00Z","s":"6mth","v":106.8},{"t":"2020-09-16T11:00Z","s":"6mth","v":106.2},{"t":"2020-09-16T18:00Z","s":"6mth","v":105.7},{"t":"2020-09-17T00:00Z","s":"6mth","v":105.4},{"t":"2020-09-17T05:00Z","s":"6mth","v":104.8},{"t":"2020-09-17T08:00Z","s":"6mth","v":104.0},{"t":"2020-09-17T14:00Z","s":"6mth","v":104.5},{"t":"2020-09-17T19:00Z","s":"6mth","v":104.3},{"t":"2020-09-18T00:00Z","s":"6mth","v":104.3},{"t":"2020-09-18T06:00Z","s":"6mth","v":104.5},{"t":"2020-09-18T13:00Z","s":"6mth","v":104.3},{"t":"2020-09-18T19:00Z","s":"6mth","v":104.5},{"t":"2020-09-19T00:00Z","s":"6mth","v":104.3},{"t":"2020-09-19T07:00Z","s":"6mth","v":104.3},{"t":"2020-09-19T10:00Z","s":"6mth","v":103.7},{"t":"2020-09-19T14:00Z","s":"6mth","v":102.9},{"t":"2020-09-19T18:00Z","s":"6mth","v":103.7},{"t":"2020-09-20T00:00Z","s":"6mth","v":104.3},{"t":"2020-09-20T06:00Z","s":"6mth","v":105.1},{"t":"2020-09-20T13:00Z","s":"6mth","v":105.4},{"t":"2020-09-20T15:00Z","s":"6mth","v":105.7},{"t":"2020-09-20T17:00Z","s":"6mth","v":106.5},{"t":"2020-09-20T21:00Z","s":"6mth","v":107.1},{"t":"2020-09-21T00:00Z","s":"6mth","v":107.9},{"t":"2020-09-21T03:00Z","s":"6mth","v":107.1},{"t":"2020-09-21T09:00Z","s":"6mth","v":106.9},{"t":"2020-09-21T14:00Z","s":"6mth","v":106.8},{"t":"2020-09-21T19:00Z","s":"6mth","v":106.2},{"t":"2020-09-21T22:00Z","s":"6mth","v":105.4},{"t":"2020-09-22T00:00Z","s":"6mth","v":105.7},{"t":"2020-09-22T03:00Z","s":"6mth","v":105.9},{"t":"2020-09-22T07:00Z","s":"6mth","v":105.7},{"t":"2020-09-22T11:00Z","s":"6mth","v":105.1},{"t":"2020-09-22T17:00Z","s":"6mth","v":104.6},{"t":"2020-09-23T00:00Z","s":"6mth","v":103.7},{"t":"2020-09-23T05:00Z","s":"6mth","v":102.9},{"t":"2020-09-23T11:00Z","s":"6mth","v":102.3},{"t":"2020-09-23T17:00Z","s":"6mth","v":101.2},{"t":"2020-09-24T00:00Z","s":"6mth","v":101.5},{"t":"2020-09-24T05:00Z","s":"6mth","v":101.5},{"t":"2020-09-24T09:00Z","s":"6mth","v":100.4},{"t":"2020-09-24T12:00Z","s":"6mth","v":102.1},{"t":"2020-09-24T18:00Z","s":"6mth","v":102.3},{"t":"2020-09-25T00:00Z","s":"6mth","v":102.6},{"t":"2020-09-25T05:00Z","s":"6mth","v":102.3},{"t":"2020-09-25T10:00Z","s":"6mth","v":101.8},{"t":"2020-09-25T15:00Z","s":"6mth","v":101.2},{"t":"2020-09-25T20:00Z","s":"6mth","v":101.8},{"t":"2020-09-26T00:00Z","s":"6mth","v":102.1},{"t":"2020-09-26T04:00Z","s":"6mth","v":102.3},{"t":"2020-09-26T08:00Z","s":"6mth","v":103.2},{"t":"2020-09-26T12:00Z","s":"6mth","v":102.1},{"t":"2020-09-26T17:00Z","s":"6mth","v":101.8},{"t":"2020-09-27T00:00Z","s":"6mth","v":101.2},{"t":"2020-09-27T07:00Z","s":"6mth","v":100.7},{"t":"2020-09-27T13:00Z","s":"6mth","v":100.9},{"t":"2020-09-27T18:00Z","s":"6mth","v":100.4},{"t":"2020-09-28T00:00Z","s":"6mth","v":101.5},{"t":"2020-09-28T05:00Z","s":"6mth","v":102.1},{"t":"2020-09-28T09:00Z","s":"6mth","v":102.3},{"t":"2020-09-28T11:00Z","s":"6mth","v":102.3}
    ]
  },
  "layer": [
    {
      "data": {"name": "vol"},
      "mark": {"type": "line", "strokeWidth": 1.7, "interpolate": "linear"},
      "encoding": {
        "x": {
          "field": "t", "type": "temporal",
          "scale": {"type": "utc", "domain": [{"year": 2020, "month": 8, "date": 28, "hours": 13, "utc": true}, {"year": 2020, "month": 9, "date": 28, "hours": 12, "utc": true}]},
          "axis": {
            "values": [
              {"year": 2020, "month": 8, "date": 29, "utc": true},
              {"year": 2020, "month": 9, "date": 3, "utc": true},
              {"year": 2020, "month": 9, "date": 8, "utc": true},
              {"year": 2020, "month": 9, "date": 13, "utc": true},
              {"year": 2020, "month": 9, "date": 18, "utc": true},
              {"year": 2020, "month": 9, "date": 23, "utc": true},
              {"year": 2020, "month": 9, "date": 28, "utc": true}
            ],
            "format": "%-d %b",
            "grid": false,
            "tickSize": 8,
            "labelPadding": 8,
            "labelFlush": false
          }
        },
        "y": {
          "field": "v", "type": "quantitative",
          "scale": {"domain": [70, 120], "nice": false, "zero": false},
          "axis": {
            "values": [70, 80, 90, 100, 110, 120],
            "labelExpr": "datum.value + '%'",
            "grid": true,
            "gridColor": "#e6e6e6",
            "gridDash": [8, 6],
            "tickSize": 6,
            "labelPadding": 4
          }
        },
        "color": {
          "field": "s", "type": "nominal",
          "scale": {"domain": ["1wk", "1mth", "3mth", "6mth"], "range": ["#EDA632", "#5B8DEF", "#F4474B", "#22A45A"]},
          "legend": {
            "orient": "none",
            "legendX": -48,
            "legendY": 347,
            "direction": "horizontal",
            "columns": 2,
            "title": null,
            "symbolType": "stroke",
            "symbolSize": 400,
            "symbolStrokeWidth": 2,
            "labelFontSize": 17,
            "labelFontWeight": "bold",
            "labelColor": "#333333",
            "labelLimit": 1000,
            "labelOffset": 10,
            "rowPadding": 1,
            "columnPadding": 346,
            "labelExpr": "datum.label + ' ATM Vol'"
          }
        }
      }
    },
    {
      "data": {"name": "stats"},
      "mark": {"type": "point", "opacity": 0},
      "encoding": {
        "x": {"datum": {"year": 2020, "month": 9, "date": 10, "utc": true}, "type": "temporal"},
        "y": {"datum": 100, "type": "quantitative"},
        "shape": {
          "field": "k", "type": "nominal",
          "scale": {"domain": ["Min: 78%, Max: 114%, Avg: 91%, Last: 103%", "Min: 87%, Max: 108%, Avg: 96%, Last: 99%", "Min: 98%, Max: 111%, Avg: 104%, Last: 102%", "Min: 100%, Max: 114%, Avg: 107%, Last: 102%"]},
          "legend": {
            "orient": "none",
            "legendX": 75,
            "legendY": 347,
            "direction": "horizontal",
            "columns": 2,
            "title": null,
            "symbolType": "stroke",
            "symbolSize": 400,
            "symbolOpacity": 0,
            "symbolStrokeColor": "transparent",
            "labelFontSize": 17,
            "labelColor": "#777777",
            "labelLimit": 1000,
            "labelOffset": 0,
            "rowPadding": 1,
            "columnPadding": 130
          }
        }
      }
    },
    {
      "data": {"values": [{}]},
      "mark": {"type": "text", "text": "skew", "font": "Lato", "fontSize": 32, "fontWeight": 900, "color": "#111111", "align": "left", "baseline": "alphabetic"},
      "encoding": {
        "x": {"datum": {"year": 2020, "month": 8, "date": 27, "hours": 0, "minutes": 38, "utc": true}, "type": "temporal"},
        "y": {"datum": 112.3, "type": "quantitative"}
      }
    },
    {
      "data": {"values": [{}]},
      "mark": {"type": "point", "filled": true, "shape": "circle", "size": 30, "color": "#F5A623", "opacity": 1},
      "encoding": {
        "x": {"datum": {"year": 2020, "month": 8, "date": 29, "hours": 14, "utc": true}, "type": "temporal"},
        "y": {"datum": 112.8, "type": "quantitative"}
      }
    },
    {
      "data": {"values": [{}]},
      "mark": {"type": "text", "text": "coinbase", "font": "Inter", "fontSize": 16, "fontWeight": 600, "color": "#1652F0", "align": "left", "baseline": "alphabetic"},
      "encoding": {
        "x": {"datum": {"year": 2020, "month": 8, "date": 27, "hours": 11, "minutes": 41, "utc": true}, "type": "temporal"},
        "y": {"datum": 109.63, "type": "quantitative"}
      }
    }
  ]
}
